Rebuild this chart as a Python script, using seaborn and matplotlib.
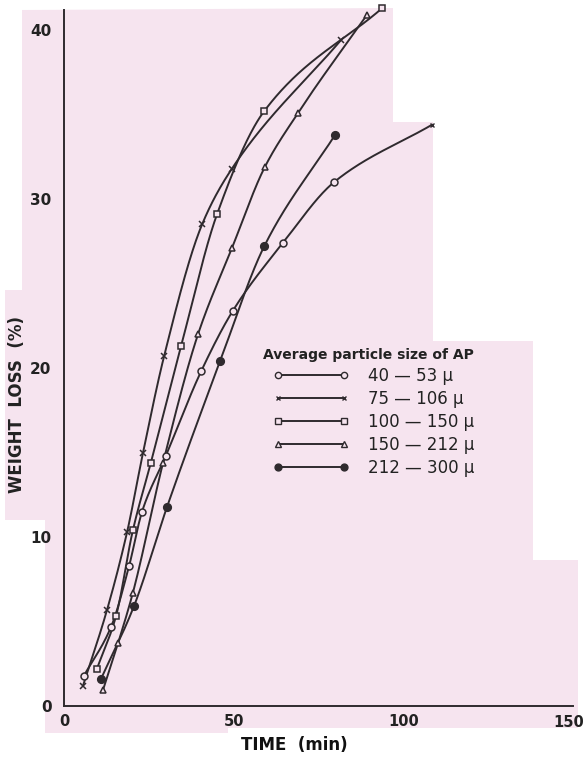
import numpy as np
import pandas as pd
import matplotlib
matplotlib.use("Agg")
import matplotlib.pyplot as plt
from matplotlib.patches import Polygon
from matplotlib.lines import Line2D
from matplotlib.transforms import ScaledTranslation
import seaborn as sns

# ---------------- data ----------------
labels = ["40 — 53 μ", "75 — 106 μ", "100 — 150 μ", "150 — 212 μ", "212 — 300 μ"]

t_40_53 = [5.9, 13.9, 19.2, 23.0, 30.0, 40.4, 49.8, 64.5, 79.6]
w_40_53 = [1.8, 4.7, 8.3, 11.5, 14.8, 19.8, 23.4, 27.4, 31.0]
end_40_53 = (108.5, 34.4)   # end of the drawn curve (small tick)

t_75_106 = [5.6, 12.7, 18.6, 23.3, 29.5, 40.7, 49.5, 81.6]
w_75_106 = [1.2, 5.7, 10.3, 15.0, 20.7, 28.5, 31.8, 39.4]

t_100_150 = [9.7, 15.3, 20.3, 25.6, 34.5, 45.1, 59.0, 93.8]
w_100_150 = [2.2, 5.3, 10.4, 14.4, 21.3, 29.1, 35.2, 41.3]

t_150_212 = [11.5, 15.9, 20.3, 29.2, 39.5, 49.5, 59.2, 69.0, 89.3]
w_150_212 = [0.95, 3.7, 6.7, 14.4, 22.0, 27.1, 31.9, 35.1, 40.9]

t_212_300 = [10.9, 20.6, 30.4, 46.0, 59.0, 79.9]
w_212_300 = [1.6, 5.9, 11.8, 20.4, 27.2, 33.8]

x_ticks = [0, 50, 100, 150]
y_ticks = [0, 10, 20, 30, 40]

# ---------------- styling ----------------
INK = "#2f2a2e"
PINK = "#f6e4ef"
W, H = 586, 762

sns.set_theme(style="white")
plt.rcParams["font.family"] = ["DejaVu Sans"]

fig = plt.figure(figsize=(W / 100, H / 100), dpi=100, facecolor="white")

# scanned-page pink background
poly_px = [(22, 10), (393, 8), (393, 122), (433, 122), (433, 341), (533, 341),
           (533, 560), (578, 560), (578, 728), (228, 728), (228, 733), (45, 733),
           (45, 520), (5, 520), (5, 290), (22, 290)]
poly = [(x / W, 1 - y / H) for x, y in poly_px]
fig.add_artist(Polygon(poly, closed=True, transform=fig.transFigure,
                       facecolor=PINK, edgecolor="none", zorder=0))

left, right = 64 / W, 573 / W
bottom, top = 1 - 706 / H, 1 - 10 / H
ax = fig.add_axes([left, bottom, right - left, top - bottom])
ax.set_facecolor("none")


def pchip(x, y, xs):
    x = np.asarray(x, float); y = np.asarray(y, float)
    h = np.diff(x); d = np.diff(y) / h
    m = np.zeros_like(y)
    m[0], m[-1] = d[0], d[-1]
    for k in range(1, len(x) - 1):
        if d[k - 1] * d[k] > 0:
            w1 = 2 * h[k] + h[k - 1]; w2 = h[k] + 2 * h[k - 1]
            m[k] = (w1 + w2) / (w1 / d[k - 1] + w2 / d[k])
    idx = np.clip(np.searchsorted(x, xs) - 1, 0, len(x) - 2)
    hh = h[idx]; s = (xs - x[idx]) / hh
    h00 = 2 * s**3 - 3 * s**2 + 1; h10 = s**3 - 2 * s**2 + s
    h01 = -2 * s**3 + 3 * s**2; h11 = s**3 - s**2
    return h00 * y[idx] + h10 * hh * m[idx] + h01 * y[idx + 1] + h11 * hh * m[idx + 1]


series = [
    (t_40_53, w_40_53, "o", 5.0, "none"),
    (t_75_106, w_75_106, "x", 3.8, None),
    (t_100_150, w_100_150, "s", 4.5, "none"),
    (t_150_212, w_150_212, "^", 4.3, "none"),
    (t_212_300, w_212_300, "o", 5.5, INK),
]

handles = []
for i, (tt, ww, mk, ms, fc) in enumerate(series):
    ct, cw = list(tt), list(ww)
    if i == 0:
        ct.append(end_40_53[0]); cw.append(end_40_53[1])
    xs = np.linspace(ct[0], ct[-1], 300)
    ys = pchip(ct, cw, xs)
    sns.lineplot(x=xs, y=ys, ax=ax, color=INK, lw=1.4, sort=False,
                 estimator=None, zorder=2)
    df = pd.DataFrame({"t": tt, "w": ww})
    face = INK if mk == "x" else (PINK if fc == "none" else fc)
    ax.plot(df["t"], df["w"], ls="none", marker=mk, ms=ms, mew=1.1,
            mfc=face, mec=INK, zorder=3, clip_on=False)
    handles.append(Line2D([0], [0], color=INK, lw=1.4, marker=mk,
                          ms=ms * 0.9, mew=1.0, mfc=face, mec=INK))

ax.plot([end_40_53[0]], [end_40_53[1]], ls="none", marker="x", ms=3,
        mew=1, color=INK, zorder=3)

ax.set_xlim(0, 150)
ax.set_ylim(0, (706 - 10) / 16.9)
ax.set_xticks(x_ticks)
ax.set_yticks(y_ticks)
# last x tick label is drawn as a nudged text so it stays inside the figure
ax.set_xticklabels([str(v) for v in x_ticks[:-1]] + [""], fontsize=10.5,
                   color="#222", fontweight="bold")
ax.text(x_ticks[-1], 0, str(x_ticks[-1]), fontsize=10.5, color="#222",
        fontweight="bold", ha="center", va="top",
        transform=ax.get_xaxis_transform()
        + ScaledTranslation(-4 / 100, -9 / 100, fig.dpi_scale_trans))
ax.set_yticklabels([str(v) for v in y_ticks], fontsize=11, color="#222",
                   fontweight="bold")
ax.tick_params(axis="x", direction="in", length=6, width=1.1, color=INK, pad=6)
ax.tick_params(axis="y", direction="out", length=6, width=1.1, color=INK, pad=3)
for s in ["top", "right"]:
    ax.spines[s].set_visible(False)
for s in ["left", "bottom"]:
    ax.spines[s].set_color(INK)
    ax.spines[s].set_linewidth(1.4)

ax.set_xlabel("TIME  (min)", fontsize=12, fontweight="bold", color="#111")
ax.xaxis.set_label_coords((294 - 64) / 509, -(736 - 706) / 696)
ax.set_ylabel("WEIGHT  LOSS  (%)", fontsize=12, fontweight="bold", color="#222")
ax.yaxis.set_label_coords((26 - 64) / 509, (706 - 405) / 696)

leg = ax.legend(handles, labels, title="Average particle size of AP",
                frameon=False, numpoints=2, handlelength=4.6, handletextpad=1.1,
                labelspacing=0.3, prop={"size": 12},
                title_fontproperties={"size": 10, "weight": "bold"},
                loc="upper left",
                bbox_to_anchor=((248 - 64) / 509, (706 - 333) / 696))
leg._legend_box.align = "right"
for txt in leg.get_texts():
    txt.set_color("#222")
leg.get_title().set_color("#222")

fig.savefig("out.png", dpi=100, facecolor="white")
